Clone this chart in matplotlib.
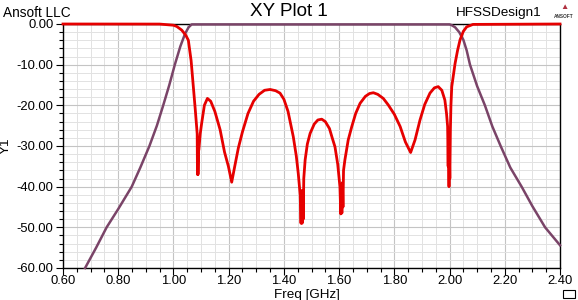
import matplotlib
matplotlib.use("Agg")
import matplotlib.pyplot as plt
from matplotlib.ticker import MultipleLocator, FormatStrFormatter
from matplotlib.patches import Rectangle

plt.rcParams['font.family'] = ['Liberation Sans', 'DejaVu Sans']

# S11 (red) trace: frequency [GHz] and dB
s11_freq = [0.60, 0.95, 1.00, 1.012, 1.03, 1.045, 1.054, 1.064, 1.072, 1.079, 1.086,
            1.087, 1.0885, 1.089, 1.0905, 1.092, 1.097, 1.102, 1.112, 1.123, 1.135,
            1.150, 1.169, 1.185, 1.199, 1.211, 1.222, 1.235, 1.250, 1.270, 1.290,
            1.310, 1.330, 1.350, 1.370, 1.386, 1.400, 1.415, 1.434, 1.445, 1.452,
            1.459, 1.462, 1.464, 1.466, 1.468, 1.470, 1.472, 1.477, 1.485, 1.495,
            1.510, 1.523, 1.537, 1.550, 1.565, 1.575, 1.585, 1.595, 1.603, 1.606,
            1.608, 1.610, 1.612, 1.614, 1.616, 1.621, 1.633, 1.646, 1.660, 1.676,
            1.695, 1.710, 1.724, 1.740, 1.760, 1.778, 1.800, 1.821, 1.840, 1.859,
            1.875, 1.893, 1.910, 1.929, 1.945, 1.959, 1.972, 1.983, 1.989, 1.993,
            1.995, 1.996, 1.998, 1.999, 2.001, 2.003, 2.005, 2.008, 2.020, 2.029,
            2.038, 2.050, 2.062, 2.085, 2.400]
s11_db = [0.0, -0.02, -0.3, -0.6, -1.5, -2.8, -4.0, -9.0, -15.4, -21.0, -27.0,
          -37.0, -29.0, -37.0, -31.0, -31.0, -27.0, -24.5, -20.0, -18.3, -19.0,
          -21.5, -26.0, -31.5, -35.0, -38.9, -35.0, -30.5, -26.5, -22.0, -19.0,
          -17.3, -16.3, -16.1, -16.4, -17.0, -18.5, -21.5, -27.7, -32.5, -36.7,
          -42.0, -49.0, -41.0, -49.0, -41.0, -48.0, -38.0, -33.4, -29.5, -26.9,
          -24.6, -23.6, -23.4, -24.0, -25.7, -28.0, -30.2, -34.5, -40.0, -46.7,
          -40.0, -46.5, -39.0, -45.0, -36.0, -33.4, -28.5, -25.2, -22.0, -19.5,
          -17.8, -17.1, -16.9, -17.3, -18.3, -19.9, -22.2, -25.2, -29.0, -31.6,
          -28.5, -23.6, -19.8, -17.0, -15.7, -15.4, -16.3, -18.7, -22.0, -25.2,
          -35.0, -27.0, -40.0, -30.0, -38.0, -26.0, -20.0, -15.4, -9.7, -6.5,
          -3.9, -1.8, -0.7, -0.1, 0.0]

# S21 (purple) trace
s21_freq = [0.68, 0.72, 0.758, 0.80, 0.849, 0.88, 0.913, 0.94, 0.963, 0.985,
            1.005, 1.025, 1.042, 1.055, 1.066, 2.000, 2.008, 2.020, 2.035, 2.050,
            2.062, 2.074, 2.100, 2.128, 2.155, 2.185, 2.220, 2.261, 2.300, 2.346,
            2.400]
s21_db = [-60.0, -55.0, -50.0, -45.5, -40.0, -35.3, -30.0, -25.0, -20.0, -15.0,
          -10.0, -5.5, -2.4, -0.8, -0.1, -0.1, -0.3, -0.8, -2.0, -3.9,
          -6.5, -10.0, -15.3, -20.0, -25.2, -30.0, -35.3, -40.0, -44.8, -50.0,
          -54.4]

fig = plt.figure(figsize=(5.78, 3.0), dpi=100)
ax = fig.add_axes([63 / 578, 32 / 300, 497 / 578, 244 / 300])

ax.plot(s21_freq, s21_db, color='#7a4468', linewidth=1.8, zorder=3, clip_on=False)
ax.plot(s11_freq, s11_db, color='#e60000', linewidth=2.0, zorder=4, clip_on=False)

ax.set_xlim(0.6, 2.4)
ax.set_ylim(-60, 0)
ax.xaxis.set_major_locator(MultipleLocator(0.2))
ax.xaxis.set_minor_locator(MultipleLocator(0.05))
ax.yaxis.set_major_locator(MultipleLocator(10))
ax.yaxis.set_minor_locator(MultipleLocator(2))
ax.xaxis.set_major_formatter(FormatStrFormatter('%.2f'))
ax.yaxis.set_major_formatter(FormatStrFormatter('%.2f'))

ax.grid(which='major', color='#c4c4c4', linewidth=0.8)
ax.grid(which='minor', color='#e2e2e2', linewidth=0.7)
ax.set_axisbelow(True)

ax.tick_params(which='major', direction='out', length=5, width=0.8,
               labelsize=9.4, colors='black')
ax.tick_params(axis='x', which='major', pad=0)
ax.tick_params(axis='y', which='major', pad=2)
ax.tick_params(which='minor', direction='out', length=3, width=0.8)
for s in ['left', 'bottom', 'right', 'top']:
    ax.spines[s].set_linewidth(1.0)

ax.set_xlabel('Freq [GHz]', fontsize=9.7)
ax.xaxis.set_label_coords(244 / 497, -21 / 244)
ax.set_ylabel('Y1', fontsize=9.7)
ax.yaxis.set_label_coords(-51 / 497, 0.5)

fig.text(0.499, 0.962, 'XY Plot 1', ha='center', va='center', fontsize=13.6)
fig.text(0.006, 0.958, 'Ansoft LLC', ha='left', va='center', fontsize=9.8)
fig.text(0.936, 0.958, 'HFSSDesign1', ha='right', va='center', fontsize=9.7)
fig.text(0.976, 0.944, 'ANSOFT', ha='center', va='center', fontsize=3.4,
         fontweight='bold', color='#333333')
fig.text(0.976, 0.975, '\u25B2', ha='center', va='center', fontsize=6,
         color='#b03040')

fig.patches.append(Rectangle((563 / 578, 2 / 300), 12 / 578, 8 / 300,
                             transform=fig.transFigure, fill=False,
                             edgecolor='black', linewidth=0.8))

fig.savefig('out.png', dpi=100)
